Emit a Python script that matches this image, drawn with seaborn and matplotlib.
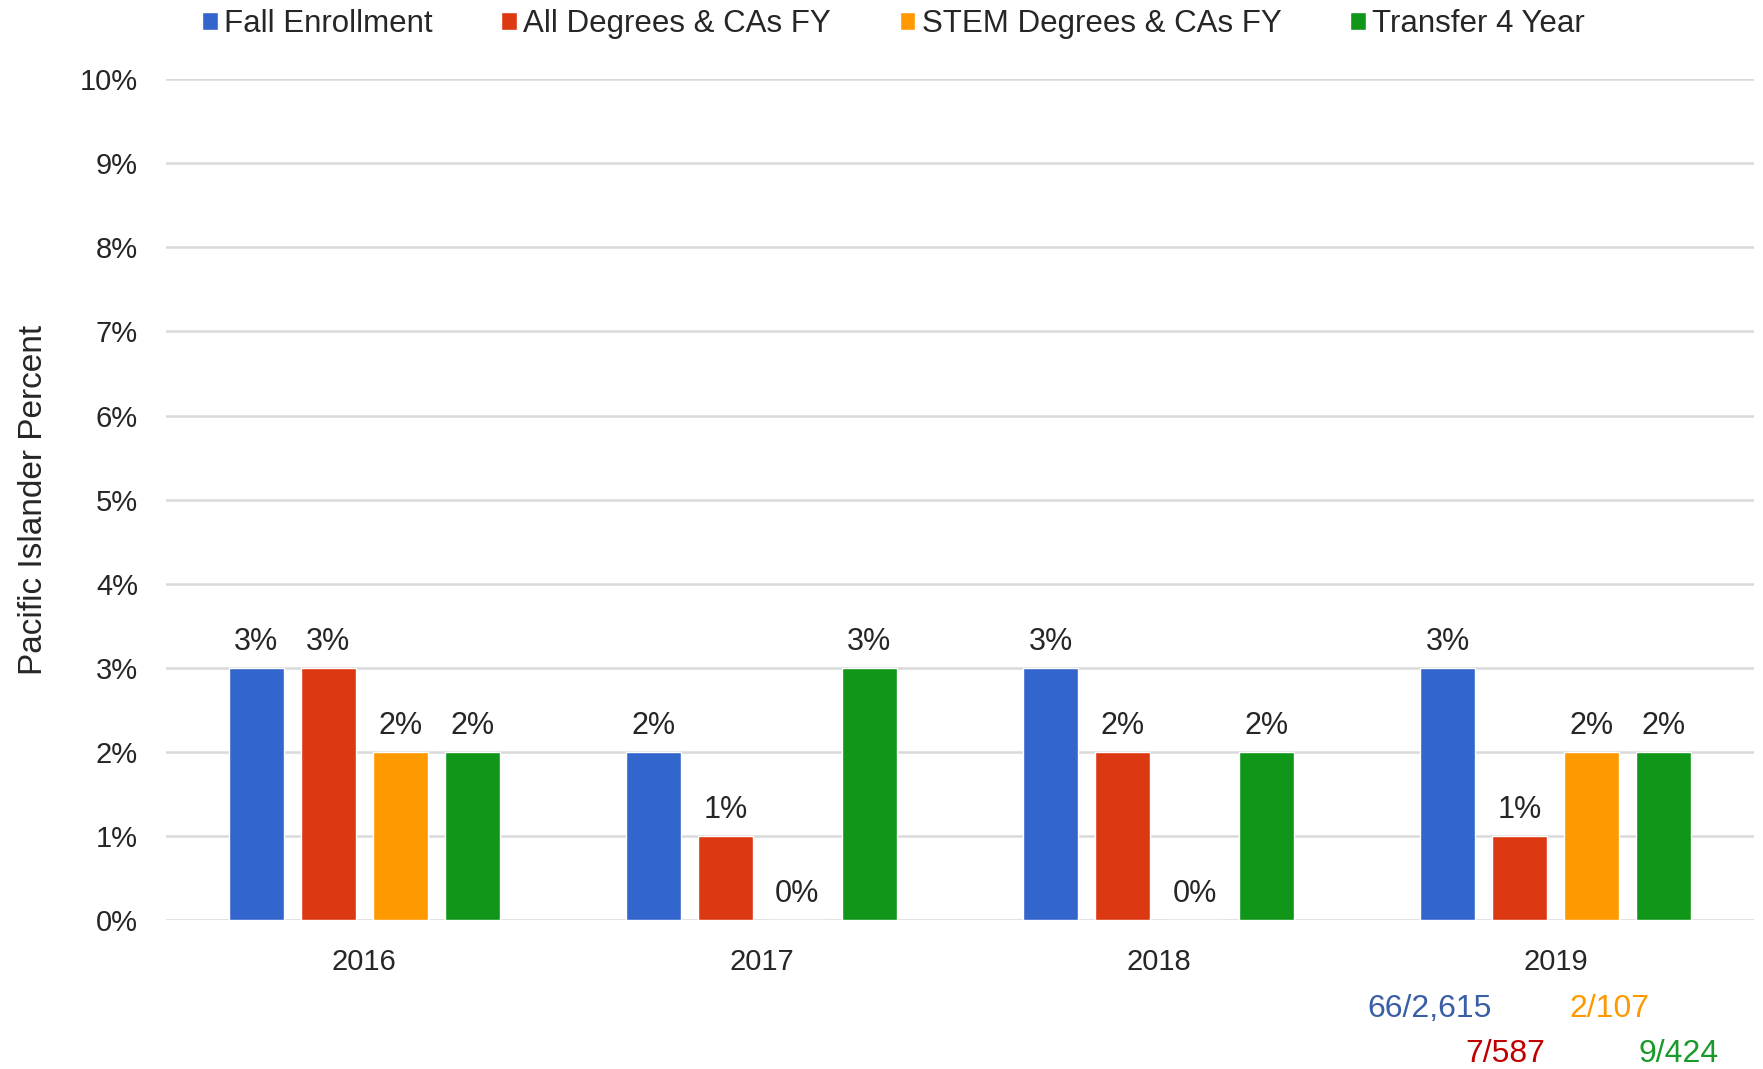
import pandas as pd
import seaborn as sns
import matplotlib.pyplot as plt
from matplotlib.ticker import FuncFormatter

years = ['2016', '2017', '2018', '2019']
series = ['Fall Enrollment', 'All Degrees & CAs FY', 'STEM Degrees & CAs FY', 'Transfer 4 Year']
fall_enrollment = [3, 2, 3, 3]
all_degrees = [3, 1, 2, 1]
stem_degrees = [2, 0, 0, 2]
transfer = [2, 3, 2, 2]
colors = ['#3366CC', '#DC3912', '#FF9900', '#109618']

# counts shown under 2019
counts = ['66/2,615', '7/587', '2/107', '9/424']
count_colors = ['#3A5FA6', '#C00000', '#FF9900', '#1A9A2A']

df = pd.DataFrame({
    'Year': years * 4,
    'Series': [s for s in series for _ in years],
    'Percent': fall_enrollment + all_degrees + stem_degrees + transfer,
})

sns.set_style('white')
plt.rcParams['font.family'] = ['Liberation Sans', 'DejaVu Sans']

fig, ax = plt.subplots(figsize=(17.63, 10.69), dpi=100)
fig.subplots_adjust(left=0.094, right=0.995, bottom=0.139, top=0.926)

sns.barplot(data=df, x='Year', y='Percent', hue='Series', hue_order=series,
            palette=colors, width=0.725, gap=0.23, saturation=1, ax=ax)

for cont in ax.containers:
    ax.bar_label(cont, labels=[f'{v:.0f}%' for v in cont.datavalues],
                 padding=8, fontsize=22)

ax.set_ylim(0, 10)
ax.set_yticks(range(0, 11))
ax.yaxis.set_major_formatter(FuncFormatter(lambda v, p: f'{v:.0f}%'))
ax.grid(axis='y', color='#D9D9D9', linewidth=1.8)
ax.set_axisbelow(True)
for s in ax.spines.values():
    s.set_visible(False)
ax.tick_params(axis='y', length=0, pad=20, labelsize=21)
ax.tick_params(axis='x', length=0, pad=20, labelsize=21)
ax.set_xlabel('')
ax.set_ylabel('Pacific Islander Percent', fontsize=24, labelpad=22)

handles, labels = ax.get_legend_handles_labels()
ax.legend(handles, labels, loc='upper left', bbox_to_anchor=(0.015, 1.098), ncol=4,
          frameon=False, fontsize=22.5, handlelength=0.5, handleheight=0.5,
          handletextpad=0.2, columnspacing=2.2, borderaxespad=0)

pos = [(1430, 1009), (1505, 1054), (1609, 1009), (1679, 1054)]
for txt, c, (x, y) in zip(counts, count_colors, pos):
    fig.text(x / 1763, 1 - y / 1069, txt, color=c, fontsize=23, ha='center', va='center')

fig.savefig('out.png', dpi=100)
